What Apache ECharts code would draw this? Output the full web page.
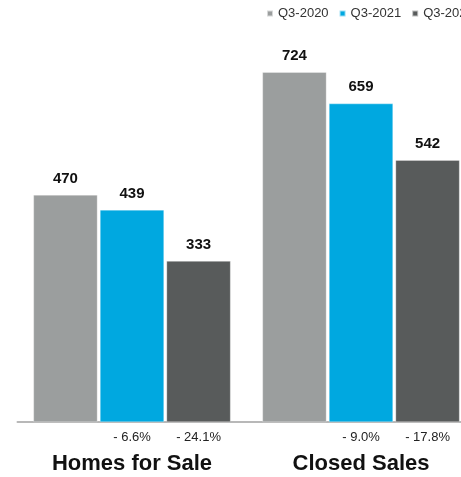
<!DOCTYPE html>
<html>
<head>
<meta charset="utf-8">
<style>
  html, body { margin: 0; padding: 0; background: #ffffff; }
  #chart { width: 461px; height: 477px; }
</style>
<script src="https://cdn.jsdelivr.net/npm/echarts@6/dist/echarts.min.js"></script>
</head>
<body>
<div id="chart"></div>
<script>
// Quarterly comparison: Q3 of three consecutive years
const categories = ['Homes for Sale', 'Closed Sales'];
const seriesNames = ['Q3-2020', 'Q3-2021', 'Q3-2022'];
const q3_2020 = [470, 724];
const q3_2021 = [439, 659];
const q3_2022 = [333, 542];

const seriesValues = [q3_2020, q3_2021, q3_2022];
const colors = ['#9b9e9e', '#00a8e0', '#585b5b'];
const FONT = '"Liberation Sans", Arial, Helvetica, sans-serif';

// Year-over-year change of each series against the previous one
function changeLabel(i, j) {
  if (i === 0) return '';
  const prev = seriesValues[i - 1][j];
  const cur = seriesValues[i][j];
  const pct = (cur - prev) / prev * 100;
  return (pct < 0 ? '- ' : '+ ') + Math.abs(pct).toFixed(1) + '%';
}

const barCommon = { barWidth: 64, barGap: '4%', barCategoryGap: 0 };

const series = [];
seriesValues.forEach((vals, i) => {
  series.push(Object.assign({
    name: seriesNames[i],
    type: 'bar',
    xAxisIndex: 0,
    data: vals,
    itemStyle: { color: colors[i], borderColor: 'rgba(255,255,255,0.6)', borderWidth: 0.5 },
    label: {
      show: true,
      position: 'top',
      distance: 9,
      color: '#111',
      fontFamily: FONT,
      fontWeight: 'bold',
      fontSize: 15
    }
  }, barCommon));
});
// Change labels underneath the bars, laid out by a hidden twin axis
seriesValues.forEach((vals, i) => {
  series.push(Object.assign({
    name: 'chg-' + seriesNames[i],
    type: 'bar',
    xAxisIndex: 1,
    silent: true,
    data: vals,
    itemStyle: { color: 'rgba(0,0,0,0)' },
    label: {
      show: i > 0,
      position: ['50%', '100%'],
      offset: [0, 9],
      align: 'center',
      verticalAlign: 'top',
      color: '#222',
      fontFamily: FONT,
      fontSize: 13,
      formatter: p => changeLabel(i, p.dataIndex)
    }
  }, barCommon));
});

const chart = echarts.init(document.getElementById('chart'), null, { renderer: 'canvas' });
chart.setOption({
  animation: false,
  backgroundColor: '#ffffff',
  legend: {
    data: seriesNames,
    left: 261,
    top: 2,
    width: 300,
    orient: 'horizontal',
    icon: 'rect',
    itemWidth: 6,
    itemHeight: 6,
    itemGap: 10,
    textStyle: { fontFamily: FONT, fontSize: 13, color: '#333', overflow: 'none', width: 60 }
  },
  grid: {
    left: 17.5, right: -14.5, top: 35.5, bottom: 55,
    outerBoundsMode: 'none', containLabel: false
  },
  xAxis: [
    {
      type: 'category',
      data: categories,
      axisLine: { show: true, lineStyle: { color: '#b8b8b8', width: 2 } },
      axisTick: { show: false },
      axisLabel: {
        margin: 31,
        color: '#111',
        fontFamily: FONT,
        fontWeight: 'bold',
        fontSize: 22
      }
    },
    {
      type: 'category',
      data: categories,
      position: 'bottom',
      show: false
    }
  ],
  yAxis: {
    type: 'value',
    min: 0,
    max: 800,
    show: false,
    splitLine: { show: false }
  },
  series: series
});
</script>
</body>
</html>
